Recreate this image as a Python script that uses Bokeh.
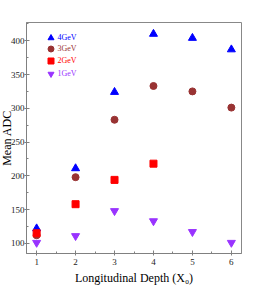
from bokeh.plotting import figure
from bokeh.models import Range1d, SingleIntervalTicker, Legend, LegendItem
from bokeh.embed import file_html
from bokeh.resources import INLINE

# ---- data ----
depth = [1, 2, 3, 4, 5, 6]
depth_2gev = [1, 2, 3, 4]
adc_4gev = [122, 211, 324, 410, 404, 387]
adc_3gev = [112, 198, 283, 333, 325, 301]
adc_2gev = [115, 158, 194, 218]
adc_1gev = [101, 111, 148, 133, 117, 101]
series_labels = ["4GeV", "3GeV", "2GeV", "1GeV"]
x_title = "Longitudinal Depth (X\u2080)"
y_title = "Mean ADC"

FONT = "Liberation Serif"
C4, C3, C2, C1 = "#0000ff", "#993333", "#ff0000", "#9933ff"

p = figure(width=278, height=289, output_backend="svg", toolbar_location=None,
           x_range=Range1d(0.74, 6.26), y_range=Range1d(85, 427),
           min_border_left=36, min_border_right=27, min_border_top=22,
           min_border_bottom=36)
p.styles = {"margin-left": "-10px"}
p.xgrid.visible = False
p.ygrid.visible = False
p.outline_line_color = "#888888"
p.outline_line_width = 1
p.background_fill_color = "white"
p.border_fill_color = "white"

p.xaxis.ticker = SingleIntervalTicker(interval=1, num_minor_ticks=2)
p.yaxis.ticker = SingleIntervalTicker(interval=50, num_minor_ticks=2)
for ax in (p.xaxis, p.yaxis):
    ax.axis_line_color = "#808080"
    ax.major_tick_line_color = "#808080"
    ax.minor_tick_line_color = "#808080"
    ax.major_tick_in = 3
    ax.major_tick_out = 2
    ax.minor_tick_in = 2
    ax.minor_tick_out = 0
    ax.major_label_text_font = FONT
    ax.major_label_text_font_size = "9px"
    ax.major_label_text_color = "#222222"
    ax.axis_label_text_font = FONT
    ax.axis_label_text_font_size = "12px"
    ax.axis_label_text_font_style = "normal"
    ax.axis_label_text_color = "black"
p.yaxis.major_label_standoff = 0
p.xaxis.major_label_standoff = 3
p.yaxis.axis_label = y_title
p.xaxis.axis_label = x_title
p.yaxis.axis_label_standoff = -6
p.xaxis.axis_label_standoff = 3

r4 = p.scatter(depth, adc_4gev, marker="triangle", size=8, color=C4)
r3 = p.scatter(depth, adc_3gev, marker="circle", size=7, color=C3)
r2 = p.scatter(depth_2gev, adc_2gev, marker="square", size=7, color=C2)
r1 = p.scatter(depth, adc_1gev, marker="inverted_triangle", size=8, color=C1)

legend_rows = [(r4, C4, 208), (r3, C3, 197.5), (r2, C2, 185), (r1, C1, 172.5)]
for (rend, col, ypos), lab in zip(legend_rows, series_labels):
    leg = Legend(items=[LegendItem(label=lab, renderers=[rend])],
                 location=(16.5, ypos), glyph_width=15, glyph_height=15,
                 label_height=15, label_standoff=0, padding=0, margin=0,
                 spacing=0, border_line_alpha=0, background_fill_alpha=0,
                 label_text_font=FONT, label_text_font_size="8px",
                 label_text_color=col)
    p.add_layout(leg)

open("out.html", "w").write(file_html(p, INLINE))
